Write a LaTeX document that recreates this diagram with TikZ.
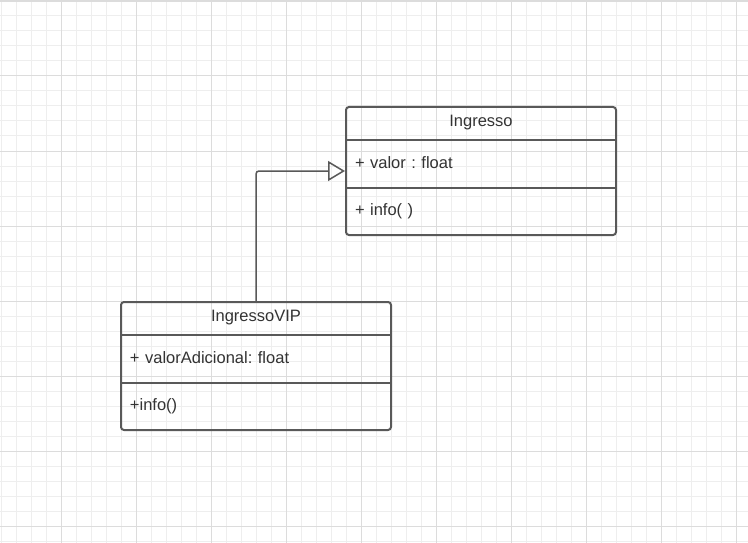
\documentclass[tikz,border=0pt]{standalone}
\usepackage{fontspec}
\setmainfont{Liberation Sans}
\usepackage{tikz}
\usetikzlibrary{matrix,arrows.meta}

\definecolor{umlline}{HTML}{595959}
\definecolor{umltext}{HTML}{333333}
\definecolor{gridminor}{HTML}{EEEEEE}
\definecolor{gridmajor}{HTML}{DCDCDC}

\tikzset{
	umlclass/.style={matrix of nodes, draw=umlline, line width=2pt, rounded corners=3pt, inner sep=0pt,
		row sep=0pt, column sep=0pt,
		nodes={font=\fontsize{16.5}{18}\selectfont\frenchspacing, text=umltext, minimum width=270pt, inner xsep=9pt, inner ysep=0pt, text width=252pt, align=left, anchor=center},
		row 1/.style={nodes={minimum height=32pt, align=center}},
		row 2/.style={nodes={minimum height=48pt}},
		row 3/.style={nodes={minimum height=48pt}}},
	umldivider/.style={draw=umlline, line width=2pt},
	inherits/.style={draw=umlline, line width=1.5pt, rounded corners=3pt, -{Triangle[open, length=17pt, width=20pt, line width=1.5pt]}}
}

\begin{document}
\begin{tikzpicture}[x=1pt, y=-1pt]
	\useasboundingbox (0,0) rectangle (748,543);
	\fill[white] (0,0) rectangle (748,543);
	% background grid
	\foreach \x in {1,16,...,746} \draw[gridminor, line width=1pt] (\x,0) -- (\x,543);
	\foreach \y in {1,16,...,541} \draw[gridminor, line width=1pt] (0,\y) -- (748,\y);
	\foreach \x in {61,136,...,736} \draw[gridmajor, line width=1pt] (\x,0) -- (\x,543);
	\foreach \y in {1,76,...,526} \draw[gridmajor, line width=1pt] (0,\y) -- (748,\y);
	\draw[gridmajor, line width=2pt] (0,1) -- (748,1);

	\matrix (ing) [umlclass] at (481,171) {
		Ingresso \\
		+ valor : float \\
		+ info( ) \\
	};
	\draw[umldivider] (ing-1-1.south west) -- (ing-1-1.south east);
	\draw[umldivider] (ing-2-1.south west) -- (ing-2-1.south east);

	\matrix (vip) [umlclass] at (256,366) {
		IngressoVIP \\
		+ valorAdicional: float \\
		+info() \\
	};
	\draw[umldivider] (vip-1-1.south west) -- (vip-1-1.south east);
	\draw[umldivider] (vip-2-1.south west) -- (vip-2-1.south east);

	\draw[inherits] (vip.north) |- (ing.west);
\end{tikzpicture}
\end{document}
